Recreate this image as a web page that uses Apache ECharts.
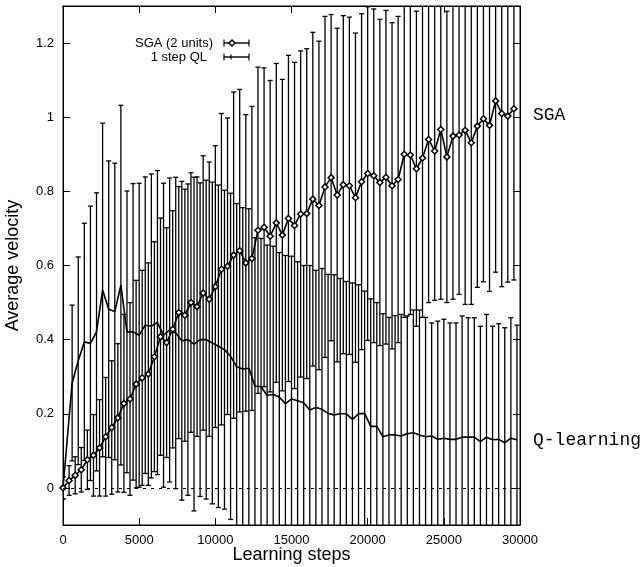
<!doctype html>
<html>
<head>
  <meta charset="UTF-8" />
  <title>SGA vs 1 step QL</title>
  <script src="https://cdn.jsdelivr.net/npm/echarts@6/dist/echarts.min.js"></script>
  <style>
    html, body { margin: 0; padding: 0; background: #ffffff; }
    #chart { width: 643px; height: 567px; }
  </style>
</head>
<body>
  <div id="chart"></div>
  <script>
    // SGA (2 units): learning step, mean velocity, error bar half height
    const sgaSteps = [0, 400, 800, 1200, 1600, 2000, 2400, 2800, 3200, 3600,
      4000, 4400, 4800, 5200, 5600, 6000, 6400, 6800, 7200, 7600,
      8000, 8400, 8800, 9200, 9600, 10000, 10400, 10800, 11200, 11600,
      12000, 12400, 12800, 13200, 13600, 14000, 14400, 14800, 15200, 15600,
      16000, 16400, 16800, 17200, 17600, 18000, 18400, 18800, 19200, 19600,
      20000, 20400, 20800, 21200, 21600, 22000, 22400, 22800, 23200, 23600,
      24000, 24400, 24800, 25200, 25600, 26000, 26400, 26800, 27200, 27600,
      28000, 28400, 28800, 29200, 29600];
    const sgaMean = [0.0, 0.02, 0.034, 0.049, 0.076, 0.088, 0.108, 0.138, 0.163, 0.189,
      0.228, 0.24, 0.28, 0.297, 0.307, 0.354, 0.408, 0.392, 0.428, 0.473,
      0.466, 0.5, 0.489, 0.526, 0.509, 0.543, 0.59, 0.598, 0.628, 0.64,
      0.607, 0.619, 0.695, 0.703, 0.679, 0.715, 0.682, 0.727, 0.708, 0.739,
      0.74, 0.779, 0.762, 0.812, 0.837, 0.79, 0.818, 0.815, 0.783, 0.826,
      0.848, 0.842, 0.824, 0.838, 0.815, 0.832, 0.9, 0.898, 0.861, 0.89,
      0.94, 0.909, 0.967, 0.893, 0.949, 0.952, 0.965, 0.931, 0.976, 0.996,
      0.978, 1.044, 1.01, 1.003, 1.023];
    const sgaErr = [0.03, 0.04, 0.05, 0.06, 0.08, 0.11, 0.13, 0.16, 0.18, 0.2,
      0.24, 0.26, 0.28, 0.29, 0.3, 0.31, 0.32, 0.31, 0.32, 0.34,
      0.34, 0.35, 0.35, 0.37, 0.37, 0.38, 0.42, 0.4, 0.44, 0.435,
      0.4, 0.41, 0.44, 0.43, 0.42, 0.43, 0.42, 0.44, 0.44, 0.44,
      0.445, 0.45, 0.443, 0.46, 0.44, 0.45, 0.456, 0.455, 0.444, 0.453,
      0.45, 0.45, 0.44, 0.45, 0.44, 0.44, 0.44, 0.43, 0.425, 0.43,
      0.44, 0.403, 0.458, 0.393, 0.44, 0.43, 0.47, 0.436, 0.435, 0.44,
      0.448, 0.462, 0.467, 0.448, 0.462];

    // 1 step QL
    const qlSteps = [0, 600, 1000, 1400, 1800, 2200, 2600, 3000, 3400, 3800,
      4200, 4600, 5000, 5400, 5800, 6200, 6600, 7000, 7400, 7800,
      8200, 8600, 9000, 9400, 9800, 10200, 10600, 11000, 11400, 11800,
      12200, 12600, 13000, 13400, 13800, 14200, 14600, 15000, 15400, 15800,
      16200, 16600, 17000, 17400, 17800, 18200, 18600, 19000, 19400, 19800,
      20200, 20600, 21000, 21400, 21800, 22200, 22600, 23000, 23400, 23800,
      24200, 24600, 25000, 25400, 25800, 26200, 26600, 27000, 27400, 27800,
      28200, 28600, 29000, 29400, 29800];
    const qlMean = [0.0, 0.283, 0.343, 0.394, 0.39, 0.421, 0.534, 0.482, 0.476, 0.547,
      0.421, 0.421, 0.412, 0.439, 0.437, 0.446, 0.412, 0.426, 0.418, 0.397,
      0.4, 0.388, 0.4, 0.4, 0.391, 0.382, 0.373, 0.355, 0.327, 0.321,
      0.323, 0.275, 0.273, 0.25, 0.252, 0.245, 0.227, 0.24, 0.235, 0.23,
      0.21, 0.217, 0.212, 0.201, 0.197, 0.2, 0.2, 0.185, 0.2, 0.201,
      0.166, 0.166, 0.138, 0.143, 0.143, 0.14, 0.146, 0.149, 0.143, 0.138,
      0.14, 0.131, 0.134, 0.131, 0.131, 0.137, 0.137, 0.137, 0.125, 0.137,
      0.13, 0.131, 0.122, 0.134, 0.13];
    const qlErr = [0.03, 0.21, 0.28, 0.32, 0.37, 0.375, 0.45, 0.4, 0.4, 0.485,
      0.38, 0.4, 0.41, 0.4, 0.41, 0.41, 0.41, 0.41, 0.42, 0.43,
      0.42, 0.45, 0.423, 0.43, 0.434, 0.435, 0.43, 0.44, 0.44, 0.435,
      0.43, 0.4, 0.4, 0.405, 0.4, 0.39, 0.4, 0.385, 0.375, 0.37,
      0.39, 0.37, 0.38, 0.375, 0.378, 0.365, 0.357, 0.368, 0.348, 0.33,
      0.344, 0.334, 0.332, 0.317, 0.322, 0.328, 0.318, 0.331, 0.337, 0.322,
      0.305, 0.319, 0.321, 0.314, 0.314, 0.327, 0.322, 0.322, 0.311, 0.331,
      0.306, 0.312, 0.31, 0.325, 0.309];

    const yTicks = [0, 0.2, 0.4, 0.6, 0.8, 1, 1.2];

    const chart = echarts.init(document.getElementById("chart"));
    const font = "Liberation Sans";

    const toBars = (steps, mean, err) =>
      steps.map((s, i) => [s, mean[i] - err[i], mean[i] + err[i]]);
    const toLine = (steps, mean) => steps.map((s, i) => [s, mean[i]]);

    const renderBar = (params, api) => {
      const x = api.value(0);
      const lo = api.coord([x, api.value(1)]);
      const hi = api.coord([x, api.value(2)]);
      const w = 2.5;
      const style = { stroke: "#000", lineWidth: 1.3 };
      return {
        type: "group",
        children: [
          { type: "line", shape: { x1: lo[0], y1: lo[1], x2: hi[0], y2: hi[1] }, style },
          { type: "line", shape: { x1: lo[0] - w, y1: lo[1], x2: lo[0] + w, y2: lo[1] }, style },
          { type: "line", shape: { x1: hi[0] - w, y1: hi[1], x2: hi[0] + w, y2: hi[1] }, style },
        ],
      };
    };

    const axisCommon = {
      type: "value",
      axisLine: { show: true, onZero: false, lineStyle: { color: "#000", width: 1 } },
      axisTick: { show: true, inside: true, length: 7, lineStyle: { color: "#000" } },
      splitLine: { show: false },
    };

    const option = {
      animation: false,
      grid: {
        left: 63, right: 123, top: 6, bottom: 42,
        containLabel: false, outerBoundsMode: "none",
        show: true, borderColor: "#000", borderWidth: 1,
      },
      xAxis: [
        {
          ...axisCommon,
          position: "bottom",
          min: 0, max: 30000, interval: 5000,
          axisLabel: { color: "#000", fontFamily: font, fontSize: 13, margin: 9, formatter: (v) => String(v) },
          name: "Learning steps",
          nameLocation: "middle",
          nameGap: 21,
          nameMoveOverlap: false,
          nameTextStyle: { color: "#000", fontFamily: font, fontSize: 18 },
        },
        {
          ...axisCommon,
          position: "top",
          min: 0, max: 30000, interval: 5000,
          axisLabel: { show: false },
        },
      ],
      yAxis: [
        {
          ...axisCommon,
          position: "left",
          min: -0.1, max: 1.3,
          axisTick: { show: true, inside: true, length: 7, lineStyle: { color: "#000" }, customValues: yTicks },
          axisLabel: { color: "#000", fontFamily: font, fontSize: 13, margin: 9, customValues: yTicks, formatter: (v) => String(v) },
          name: "Average velocity",
          nameLocation: "middle",
          nameGap: 41,
          nameMoveOverlap: false,
          nameTextStyle: { color: "#000", fontFamily: font, fontSize: 18 },
        },
        {
          ...axisCommon,
          position: "right",
          min: -0.1, max: 1.3,
          axisTick: { show: true, inside: true, length: 7, lineStyle: { color: "#000" }, customValues: yTicks },
          axisLabel: { show: false },
        },
      ],
      series: [
        {
          name: "QL bars",
          type: "custom",
          clip: true,
          z: 1,
          renderItem: renderBar,
          encode: { x: 0, y: [1, 2] },
          data: toBars(qlSteps, qlMean, qlErr),
        },
        {
          name: "SGA bars",
          type: "custom",
          clip: true,
          z: 1,
          renderItem: renderBar,
          encode: { x: 0, y: [1, 2] },
          data: toBars(sgaSteps, sgaMean, sgaErr),
        },
        {
          name: "1 step QL",
          type: "line",
          z: 3,
          showSymbol: false,
          clip: true,
          lineStyle: { color: "#000", width: 1.6 },
          data: toLine(qlSteps, qlMean),
          markLine: {
            silent: true,
            symbol: ["none", "none"],
            label: { show: false },
            lineStyle: { color: "#000", type: [3, 5], width: 1 },
            data: [{ yAxis: 0 }],
          },
        },
        {
          name: "SGA (2 units)",
          type: "line",
          z: 4,
          symbol: "diamond",
          symbolSize: 6,
          clip: true,
          lineStyle: { color: "#000", width: 1.6 },
          itemStyle: { color: "#fff", borderColor: "#000", borderWidth: 1.5 },
          data: toLine(sgaSteps, sgaMean),
        },
      ],
      graphic: [
        { type: "text", style: { text: "SGA (2 units)", x: 213, y: 43, align: "right", verticalAlign: "middle", fontFamily: font, fontSize: 13, fill: "#000" } },
        { type: "line", shape: { x1: 224, y1: 43, x2: 249, y2: 43 }, style: { stroke: "#000", lineWidth: 1.4 } },
        { type: "line", shape: { x1: 224, y1: 39.5, x2: 224, y2: 46.5 }, style: { stroke: "#000", lineWidth: 1.2 } },
        { type: "line", shape: { x1: 249, y1: 39.5, x2: 249, y2: 46.5 }, style: { stroke: "#000", lineWidth: 1.2 } },
        { type: "polygon", shape: { points: [[232, 40], [235, 43], [232, 46], [229, 43]] }, style: { fill: "#fff", stroke: "#000", lineWidth: 1.5 }, z: 10 },
        { type: "text", style: { text: "1 step QL", x: 207, y: 57, align: "right", verticalAlign: "middle", fontFamily: font, fontSize: 13, fill: "#000" } },
        { type: "line", shape: { x1: 224, y1: 57, x2: 249, y2: 57 }, style: { stroke: "#000", lineWidth: 1.4 } },
        { type: "line", shape: { x1: 224, y1: 53.5, x2: 224, y2: 60.5 }, style: { stroke: "#000", lineWidth: 1.2 } },
        { type: "line", shape: { x1: 249, y1: 53.5, x2: 249, y2: 60.5 }, style: { stroke: "#000", lineWidth: 1.2 } },
        { type: "line", shape: { x1: 231, y1: 54.5, x2: 231, y2: 59.5 }, style: { stroke: "#000", lineWidth: 1.2 } },
        { type: "text", style: { text: "SGA", x: 533, y: 115, verticalAlign: "middle", fontFamily: "Liberation Mono", fontSize: 18, fill: "#000" } },
        { type: "text", style: { text: "Q-learning", x: 533, y: 440, verticalAlign: "middle", fontFamily: "Liberation Mono", fontSize: 18, fill: "#000" } },
      ],
    };

    chart.setOption(option);
  </script>
</body>
</html>
